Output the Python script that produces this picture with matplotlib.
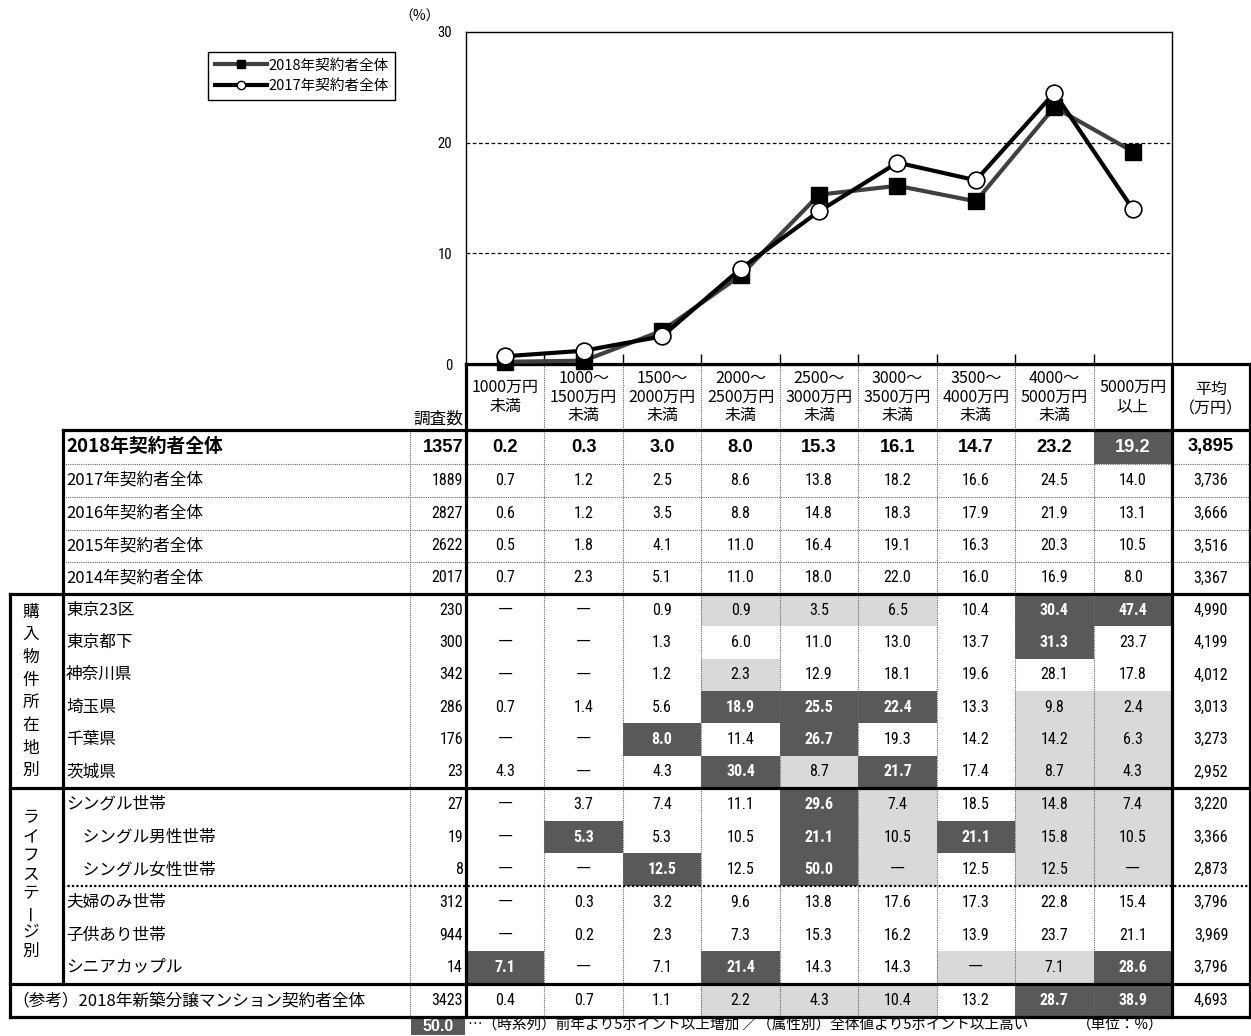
import matplotlib
matplotlib.use("Agg")
import matplotlib.pyplot as plt
from matplotlib import font_manager
from matplotlib.lines import Line2D
from matplotlib.patches import Rectangle

JP = 'Noto Sans CJK JP'
_names = {f.name for f in font_manager.fontManager.ttflist}
NUM = 'Liberation Sans'
for cand in ('Liberation Sans Narrow', 'Roboto Condensed', 'Open Sans Condensed',
             'Noto Sans Condensed', 'DejaVu Sans Condensed'):
    if cand in _names:
        NUM = cand
        break
plt.rcParams['font.family'] = [NUM, JP]

# ---- data ----
price_bands = ['1000万円\n未満', '1000～\n1500万円\n未満', '1500～\n2000万円\n未満',
               '2000～\n2500万円\n未満', '2500～\n3000万円\n未満', '3000～\n3500万円\n未満',
               '3500～\n4000万円\n未満', '4000～\n5000万円\n未満', '5000万円\n以上']
row_labels = ['2018年契約者全体', '2017年契約者全体', '2016年契約者全体', '2015年契約者全体',
              '2014年契約者全体',
              '東京23区', '東京都下', '神奈川県', '埼玉県', '千葉県', '茨城県',
              'シングル世帯', '　シングル男性世帯', '　シングル女性世帯', '夫婦のみ世帯',
              '子供あり世帯', 'シニアカップル',
              '（参考）2018年新築分譲マンション契約者全体']
sample_n = [1357, 1889, 2827, 2622, 2017, 230, 300, 342, 286, 176, 23,
            27, 19, 8, 312, 944, 14, 3423]
N = None
shares = [
    [0.2, 0.3, 3.0, 8.0, 15.3, 16.1, 14.7, 23.2, 19.2],
    [0.7, 1.2, 2.5, 8.6, 13.8, 18.2, 16.6, 24.5, 14.0],
    [0.6, 1.2, 3.5, 8.8, 14.8, 18.3, 17.9, 21.9, 13.1],
    [0.5, 1.8, 4.1, 11.0, 16.4, 19.1, 16.3, 20.3, 10.5],
    [0.7, 2.3, 5.1, 11.0, 18.0, 22.0, 16.0, 16.9, 8.0],
    [N, N, 0.9, 0.9, 3.5, 6.5, 10.4, 30.4, 47.4],
    [N, N, 1.3, 6.0, 11.0, 13.0, 13.7, 31.3, 23.7],
    [N, N, 1.2, 2.3, 12.9, 18.1, 19.6, 28.1, 17.8],
    [0.7, 1.4, 5.6, 18.9, 25.5, 22.4, 13.3, 9.8, 2.4],
    [N, N, 8.0, 11.4, 26.7, 19.3, 14.2, 14.2, 6.3],
    [4.3, N, 4.3, 30.4, 8.7, 21.7, 17.4, 8.7, 4.3],
    [N, 3.7, 7.4, 11.1, 29.6, 7.4, 18.5, 14.8, 7.4],
    [N, 5.3, 5.3, 10.5, 21.1, 10.5, 21.1, 15.8, 10.5],
    [N, N, 12.5, 12.5, 50.0, N, 12.5, 12.5, N],
    [N, 0.3, 3.2, 9.6, 13.8, 17.6, 17.3, 22.8, 15.4],
    [N, 0.2, 2.3, 7.3, 15.3, 16.2, 13.9, 23.7, 21.1],
    [7.1, N, 7.1, 21.4, 14.3, 14.3, N, 7.1, 28.6],
    [0.4, 0.7, 1.1, 2.2, 4.3, 10.4, 13.2, 28.7, 38.9],
]
avg_price = [3895, 3736, 3666, 3516, 3367, 4990, 4199, 4012, 3013, 3273, 2952,
             3220, 3366, 2873, 3796, 3969, 3796, 4693]
# 0 = plain, 1 = light (5pt lower), 2 = dark (5pt higher)
marks = [
    '000000002', '000000000', '000000000', '000000000', '000000000',
    '000111022', '000000020', '000100000', '000222011', '002020011', '000212011',
    '000021011', '020021211', '002021011', '000000000', '000000000', '200200112',
    '000111022',
]
line_2018 = shares[0]
line_2017 = shares[1]
legend_labels = ['2018年契約者全体', '2017年契約者全体']
yticks = [0, 10, 20, 30]

# ---- layout (pixels) ----
W, H = 1251, 1036
fig = plt.figure(figsize=(W / 100, H / 100), dpi=100)
ax = fig.add_axes([0, 0, 1, 1])
ax.set_xlim(0, W)
ax.set_ylim(H, 0)
ax.axis('off')

X0, XC, XL, XN, XD, XA, XR = 10, 63, 410, 466, 1172, 1172, 1250
cw = (XD - XN) / 9
col_edges = [XN + cw * i for i in range(10)]
Y_HEAD, Y_TOP = 364, 430
y_edges = [430, 464, 497, 530, 562, 594]
y_edges += [594 + (788 - 594) / 6 * i for i in range(1, 7)]
y_edges += [788 + (984 - 788) / 6 * i for i in range(1, 7)]
y_edges += [1017]

DARK, LIGHT = '#595959', '#d9d9d9'
thick = dict(color='black', lw=2.3, solid_capstyle='projecting')
dot = dict(color='#666666', lw=0.8, linestyle=(0, (1, 1)))
FS_NUM = 11.5
FS_LAB = 12
FS_BOLD = 13.2

# cells
for r in range(len(row_labels)):
    yt, yb = y_edges[r], y_edges[r + 1]
    yc = (yt + yb) / 2
    bold = r == 0
    numfam = ['Liberation Sans', JP] if bold else [NUM, JP]
    for c in range(9):
        m = marks[r][c]
        v = shares[r][c]
        if m != '0':
            ax.add_patch(Rectangle((col_edges[c], yt), cw, yb - yt,
                                   facecolor=DARK if m == '2' else LIGHT, lw=0, zorder=1))
        if v is None:
            ax.text(col_edges[c] + cw / 2, yc, '―', ha='center', va='center',
                    fontsize=11, family=[JP], zorder=3)
            continue
        ax.text(col_edges[c] + cw / 2, yc, f'{v:.1f}', ha='center', va='center',
                fontsize=FS_BOLD if bold else FS_NUM,
                fontweight='bold' if (bold or m == '2') else 'normal',
                color='white' if m == '2' else 'black', family=numfam, zorder=3)
    ax.text(XN - 3, yc, f'{sample_n[r]}', ha='right', va='center',
            fontsize=FS_BOLD if bold else FS_NUM, fontweight='bold' if bold else 'normal',
            family=numfam, zorder=3)
    ax.text((XA + XR) / 2, yc, f'{avg_price[r]:,}', ha='center', va='center',
            fontsize=FS_BOLD if bold else FS_NUM, fontweight='bold' if bold else 'normal',
            family=numfam, zorder=3)
    lx = X0 + 2 if r == len(row_labels) - 1 else XC + 3
    ax.text(lx, yc, row_labels[r], ha='left', va='center',
            fontsize=13.5 if bold else FS_LAB, fontweight='bold' if bold else 'normal',
            family=[JP], zorder=3)

# header
for c in range(9):
    ax.text(col_edges[c] + cw / 2, 397, price_bands[c], ha='center', va='center',
            fontsize=11.5, linespacing=1.15, family=[JP])
ax.text((XA + XR) / 2, 399, '平均\n（万円）', ha='center', va='center',
        fontsize=11.5, linespacing=1.15, family=[JP])
ax.text(XN - 3, 428, '調査数', ha='right', va='bottom', fontsize=12, family=[JP])

# group labels (vertical)
def vtext(s, x, y0, step):
    for i, ch in enumerate(s):
        ax.text(x, y0 + step * i, ch, ha='center', va='center', fontsize=12,
                rotation=90 if ch == 'ー' else 0, family=[JP])

vtext('購入物件所在地別', 31, 612, 22.7)
vtext('ライフステージ別', 31, 818, 19.0)

# dotted grid
for ye in y_edges[1:5]:
    ax.plot([XC, XR], [ye, ye], zorder=2, **dot)
ax.plot([XC, XR], [886, 886], color='black', lw=1.6, linestyle=(0, (1, 1)), zorder=2)
ax.plot([XL, XL], [Y_TOP, 1017], zorder=2, **dot)
for xe in col_edges[1:-1]:
    ax.plot([xe, xe], [Y_HEAD, 1017], zorder=2, **dot)

# thick borders
ax.plot([XN, XR], [Y_HEAD, Y_HEAD], zorder=4, **thick)
ax.plot([XC, XR], [Y_TOP, Y_TOP], zorder=4, **thick)
for ye in (594, 788, 984, 1017):
    ax.plot([X0, XR], [ye, ye], zorder=4, **thick)
ax.plot([XC, XC], [Y_TOP, 984], zorder=4, **thick)
ax.plot([X0, X0], [594, 1017], zorder=4, **thick)
ax.plot([XN, XN], [Y_HEAD, 1017], zorder=4, **thick)
ax.plot([XD, XD], [Y_HEAD, 1017], zorder=4, **thick)
ax.plot([XR, XR], [Y_HEAD, 1017], zorder=4, **thick)

# footnote
ax.add_patch(Rectangle((XL + 1, 1018), XN - XL - 2, 17, facecolor=DARK, lw=0))
ax.text((XL + XN) / 2, 1026.5, '50.0', ha='center', va='center', color='white',
        fontsize=11.5, fontweight='bold', family=['Liberation Sans', JP])
ax.text(XN + 2, 1025, '…（時系列）前年より5ポイント以上増加 ／（属性別）全体値より5ポイント以上高い',
        ha='left', va='center', fontsize=10.5, family=[JP])
ax.text(1120, 1025, '（単位：%）', ha='center', va='center', fontsize=10.5, family=[JP])

# ---- line chart ----
axc = fig.add_axes([XN / W, 1 - Y_HEAD / H, (XD - XN) / W, (Y_HEAD - 32) / H])
x = list(range(9))
axc.plot(x, line_2018, color='#404040', lw=3, marker='s', markersize=12,
         mfc='black', mec='black', clip_on=False, zorder=3)
axc.plot(x, line_2017, color='black', lw=3, marker='o', markersize=12,
         mfc='white', mec='black', mew=1.2, clip_on=False, zorder=4)
axc.set_xlim(-0.5, 8.5)
axc.set_ylim(0, 30)
axc.set_yticks(yticks)
axc.tick_params(axis='y', length=0, pad=10, labelsize=10.5)
axc.set_xticks([i + 0.5 for i in range(8)])
axc.set_xticklabels([])
axc.tick_params(axis='x', direction='in', length=7, width=1)
for yv in (10, 20):
    axc.axhline(yv, color='black', lw=0.9, linestyle=(0, (3, 2)), zorder=1)
for s in ('top', 'left', 'right'):
    axc.spines[s].set_linewidth(1)
axc.spines['bottom'].set_linewidth(2.3)
axc.text(-0.065, 1.025, '（%）', transform=axc.transAxes, ha='center', va='bottom',
         fontsize=10, family=[JP])

h1 = Line2D([], [], color='#404040', lw=3, marker='s', markersize=6, mfc='black', mec='black')
h2 = Line2D([], [], color='black', lw=3, marker='o', markersize=6, mfc='white', mec='black')
leg = fig.legend(handles=[h1, h2], labels=legend_labels, loc='upper left',
                 bbox_to_anchor=(208 / W, 1 - 52 / H), fancybox=False, edgecolor='black',
                 framealpha=1, handlelength=3.6, handletextpad=0.1, labelspacing=0.45,
                 borderpad=0.45, borderaxespad=0, prop={'family': [JP], 'size': 10.5})
leg.get_frame().set_linewidth(1)

fig.savefig('out.png', dpi=100)
